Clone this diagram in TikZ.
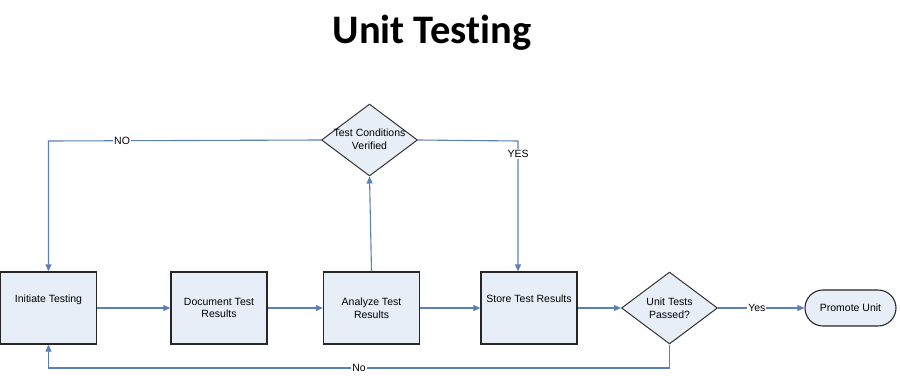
\documentclass[tikz,border=0pt]{standalone}
\usepackage{fontspec}
\setmainfont{Liberation Sans}
\newfontfamily\titlefont[Ligatures={NoCommon}]{Carlito}
\usetikzlibrary{shapes.geometric,shapes.misc,arrows.meta}
\definecolor{boxfill}{HTML}{E8EEF7}
\definecolor{conn}{HTML}{5B7FB8}
\begin{document}
\begin{tikzpicture}[x=1pt,y=-1pt,
  procbox/.style={draw=black!85,line width=1.3pt,fill=boxfill,minimum width=96pt,minimum height=72pt,inner sep=2pt,align=center,font=\fontsize{10.5}{12.5}\selectfont},
  decide/.style={draw=black!80,line width=1pt,fill=boxfill,diamond,minimum width=96pt,minimum height=72pt,inner sep=0pt},
  term/.style={draw=black!85,line width=1.1pt,fill=boxfill,rounded rectangle,minimum width=95pt,minimum height=36pt,inner sep=2pt,font=\fontsize{10.5}{12.5}\selectfont},
  dlabel/.style={align=center,font=\fontsize{10.5}{12.5}\selectfont},
  link/.style={draw=conn,line width=1.1pt,-{Triangle[length=7pt,width=6pt]}},
  lbl/.style={fill=white,inner sep=1pt,font=\fontsize{10.5}{12.5}\selectfont}]
\useasboundingbox (0,0) rectangle (901,375);
\node[font=\titlefont\bfseries\fontsize{40.5}{44}\selectfont] (title) at (432,32.5) {Unit Testing};
\node[procbox] (init) at (48.5,308) {Initiate Testing\\[7pt]};
\node[procbox] (doc) at (219,308) {Document Test\\Results};
\node[procbox] (ana) at (371.5,308) {Analyze Test\\Results};
\node[procbox] (store) at (529,308) {Store Test Results\\[7pt]};
\node[decide,label={[dlabel]center:Unit Tests\\Passed?}] (pass) at (669.5,308) {};
\node[term] (promote) at (850.5,308) {Promote Unit};
\node[decide,label={[dlabel,yshift=1pt]center:Test Conditions\\Verified}] (verify) at (369.5,140) {};
\coordinate (nocorner) at (48.5,141);
\coordinate (yescorner) at (518,141);
\coordinate (botright) at (669.5,368);
\coordinate (botleft) at (48.5,368);
\draw[link] (init) -- (doc);
\draw[link] (doc) -- (ana);
\draw[link] (ana) -- (store);
\draw[link] (store) -- (pass);
\draw[link] (pass) -- node[lbl,pos=0.45]{Yes} (promote);
\draw[link] (ana.north) -- (verify.south);
\draw[link] (verify.west) -- node[lbl,pos=0.73]{NO} (nocorner) -- (init.north);
\draw[link] (verify.east) -- (yescorner) -- node[lbl,pos=0.1]{YES} (store.north-|yescorner);
\draw[link] (pass.south) -- (botright) -- node[lbl,pos=0.5]{No} (botleft) -- (init.south);
\end{tikzpicture}
\end{document}
